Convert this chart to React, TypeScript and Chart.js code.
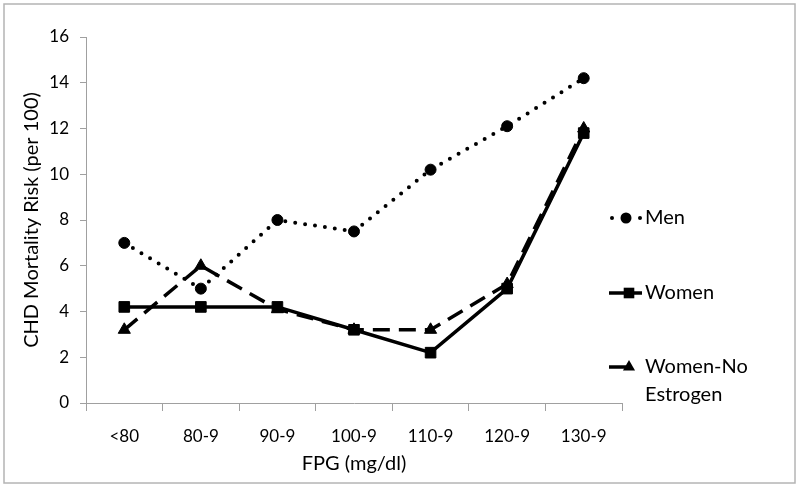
import React, { useEffect, useRef } from "react";
import { Chart, registerables } from "chart.js";

Chart.register(...registerables);

const categories = ["<80", "80-9", "90-9", "100-9", "110-9", "120-9", "130-9"];
const menValues = [7.0, 5.0, 8.0, 7.5, 10.2, 12.1, 14.2];
const womenValues = [4.2, 4.2, 4.2, 3.2, 2.2, 5.0, 11.8];
const womenNoEstrogenValues = [3.2, 6.0, 4.1, 3.2, 3.2, 5.2, 12.0];
const seriesNames = ["Men", "Women", "Women-No Estrogen"];
const yTitle = "CHD Mortality Risk (per 100)";
const xTitle = "FPG (mg/dl)";

const FONT = "Lato, 'Open Sans', sans-serif";
const AXIS_GRAY = "#a0a0a0";

function drawMarker(ctx: CanvasRenderingContext2D, style: string, x: number, y: number, r: number) {
  ctx.beginPath();
  if (style === "circle") {
    ctx.arc(x, y, r, 0, Math.PI * 2);
  } else if (style === "rect") {
    const s = Math.SQRT1_2 * r;
    ctx.rect(x - s, y - s, 2 * s, 2 * s);
  } else if (style === "triangle") {
    let rad = 0;
    ctx.moveTo(x + Math.sin(rad) * r, y - Math.cos(rad) * r);
    rad += (2 * Math.PI) / 3;
    ctx.lineTo(x + Math.sin(rad) * r, y - Math.cos(rad) * r);
    rad += (2 * Math.PI) / 3;
    ctx.lineTo(x + Math.sin(rad) * r, y - Math.cos(rad) * r);
    ctx.closePath();
  }
  ctx.fill();
}

const borderPlugin = {
  id: "outerBorder",
  beforeDraw(chart: any) {
    const ctx = chart.ctx;
    ctx.save();
    ctx.fillStyle = "#ffffff";
    ctx.fillRect(0, 0, chart.width, chart.height);
    ctx.strokeStyle = "#b4b4b4";
    ctx.lineWidth = 1.5;
    ctx.strokeRect(4, 4, 791, 479);
    ctx.restore();
  },
};

const legendPlugin = {
  id: "customLegend",
  afterDraw(chart: any) {
    const ctx = chart.ctx;
    const items = [
      { ds: 0, y: 218, lines: ["Men"], lineEnd: 643, marker: 626 },
      { ds: 1, y: 293, lines: ["Women"], lineEnd: 642, marker: 629 },
      { ds: 2, y: 367, lines: ["Women-No", "Estrogen"], lineEnd: 626, marker: 629 },
    ];
    ctx.save();
    items.forEach((it) => {
      const d: any = chart.data.datasets[it.ds];
      ctx.save();
      ctx.fillStyle = d.borderColor;
      ctx.strokeStyle = d.borderColor;
      if (it.ds === 0) {
        [612, 640].forEach((x) => {
          ctx.beginPath();
          ctx.arc(x, it.y, d.borderWidth / 2, 0, Math.PI * 2);
          ctx.fill();
        });
      } else {
        ctx.lineWidth = d.borderWidth;
        ctx.beginPath();
        ctx.moveTo(609, it.y);
        ctx.lineTo(it.lineEnd, it.y);
        ctx.stroke();
      }
      ctx.fillStyle = d.pointBackgroundColor;
      drawMarker(ctx, d.pointStyle, it.marker, it.y, d.pointRadius);
      ctx.restore();
      ctx.fillStyle = "#000";
      ctx.font = `20px ${FONT}`;
      ctx.textBaseline = "middle";
      ctx.textAlign = "left";
      it.lines.forEach((t, i) => ctx.fillText(t, 645, it.y + i * 28));
    });
    ctx.restore();
  },
};

export default function App() {
  const ref = useRef<HTMLCanvasElement | null>(null);
  useEffect(() => {
    document.body.style.margin = "0";
    if (!ref.current) return;
    const chart = new Chart(ref.current, {
      type: "line",
      data: {
        labels: categories,
        datasets: [
          {
            label: seriesNames[0],
            data: menValues,
            borderColor: "#000",
            backgroundColor: "#000",
            borderWidth: 4,
            borderDash: [0, 10],
            borderCapStyle: "round",
            pointStyle: "circle",
            pointRadius: 5.5,
            pointBackgroundColor: "#000",
            pointBorderColor: "#000",
            pointBorderWidth: 1,
            tension: 0,
            order: 2,
          },
          {
            label: seriesNames[1],
            data: womenValues,
            borderColor: "#000",
            backgroundColor: "#000",
            borderWidth: 3.5,
            pointStyle: "rect",
            pointRadius: 7.5,
            pointBackgroundColor: "#000",
            pointBorderColor: "#000",
            pointBorderWidth: 1,
            tension: 0,
            order: 1,
          },
          {
            label: seriesNames[2],
            data: womenNoEstrogenValues,
            borderColor: "#000",
            backgroundColor: "#000",
            borderWidth: 3.5,
            borderDash: [17, 9],
            pointStyle: "triangle",
            pointRadius: 7,
            pointBackgroundColor: "#000",
            pointBorderColor: "#000",
            pointBorderWidth: 1,
            tension: 0,
            order: 0,
          },
        ] as any,
      },
      options: {
        responsive: false,
        animation: false,
        layout: { padding: { top: 37, right: 178, bottom: 12, left: 0 } },
        plugins: {
          legend: { display: false },
          tooltip: { enabled: false },
        },
        scales: {
          x: {
            offset: true,
            grid: {
              offset: true,
              drawOnChartArea: false,
              drawTicks: true,
              tickLength: 8,
              color: AXIS_GRAY,
            },
            border: { color: AXIS_GRAY, width: 1 },
            ticks: {
              color: "#000",
              font: { family: FONT, size: 17 },
              padding: 15,
              maxRotation: 0,
            },
            title: {
              display: true,
              text: xTitle,
              color: "#000",
              font: { family: FONT, size: 20 },
              padding: { top: 0, bottom: 0 },
            },
            afterFit(scale: any) {
              scale.height = 73;
            },
          },
          y: {
            min: 0,
            max: 16,
            grid: {
              drawOnChartArea: false,
              drawTicks: true,
              tickLength: 6,
              color: AXIS_GRAY,
            },
            border: { color: AXIS_GRAY, width: 1 },
            ticks: {
              stepSize: 2,
              color: "#000",
              font: { family: FONT, size: 17 },
              padding: 11,
            },
            title: {
              display: true,
              text: yTitle,
              color: "#000",
              font: { family: FONT, size: 20 },
              padding: { top: 20, bottom: 0 },
            },
            afterFit(scale: any) {
              scale.width = 86;
            },
          },
        },
      } as any,
      plugins: [borderPlugin, legendPlugin],
    });
    return () => chart.destroy();
  }, []);
  return (
    <div style={{ width: 800, height: 488 }}>
      <canvas ref={ref} width={800} height={488} style={{ display: "block" }} />
    </div>
  );
}
